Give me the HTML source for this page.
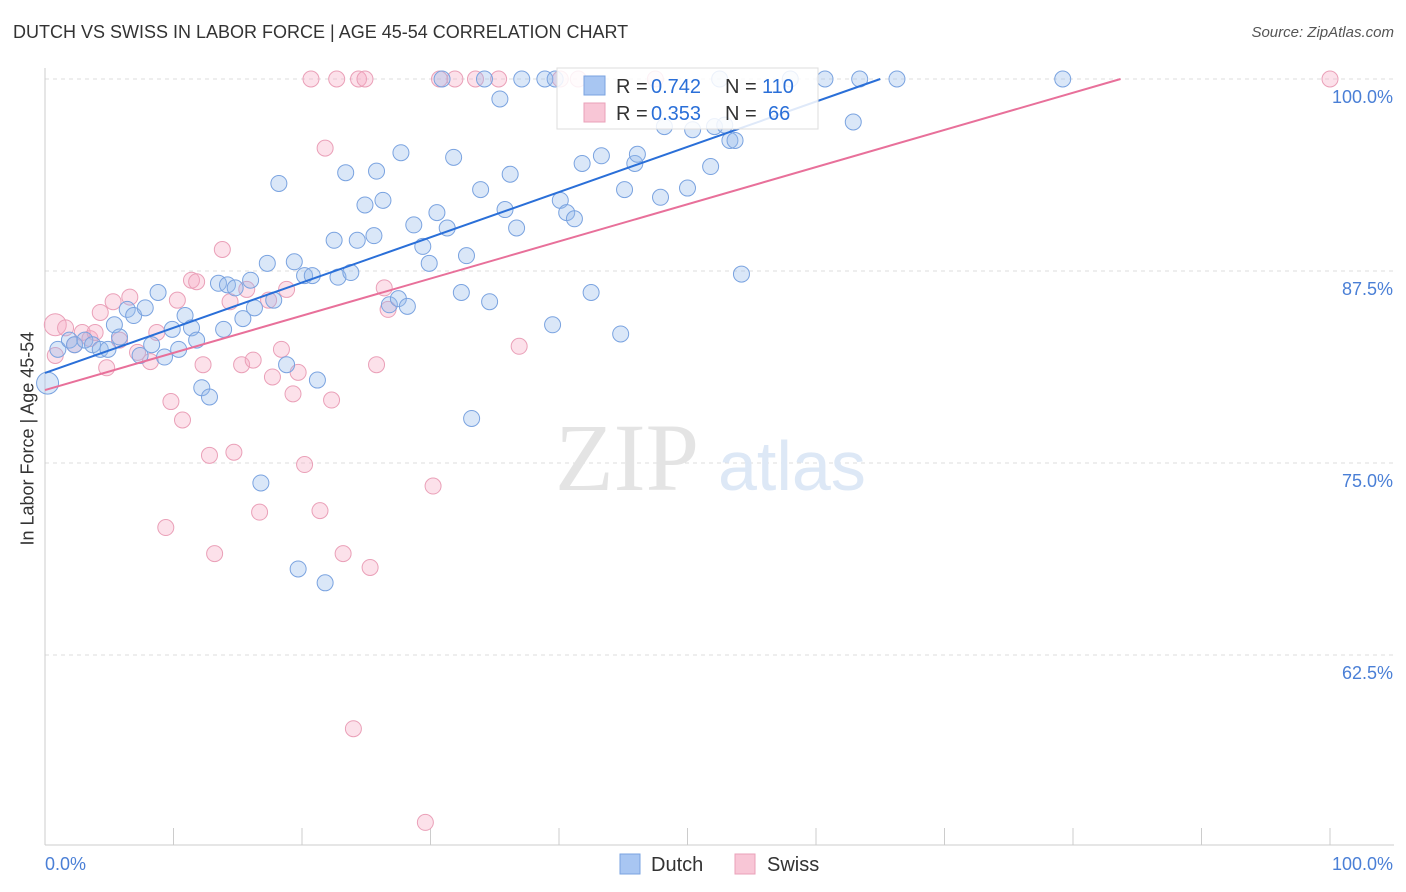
<!DOCTYPE html>
<html><head><meta charset="utf-8">
<style>
body{margin:0;background:#fff;font-family:"Liberation Sans",sans-serif;}
#wrap{position:relative;width:1406px;height:892px;overflow:hidden;}
.t{position:absolute;white-space:nowrap;}
</style></head><body>
<div id="wrap">
<div class="t" style="left:13px;top:22px;font-size:18px;color:#333;">DUTCH VS SWISS IN LABOR FORCE | AGE 45-54 CORRELATION CHART</div>
<div class="t" style="right:12px;top:24px;font-size:15px;color:#555;font-style:italic;">Source: ZipAtlas.com</div>
<div class="t" style="left:-62px;top:445px;font-size:18px;color:#333;transform:rotate(-90deg);width:180px;text-align:center;">In Labor Force | Age 45-54</div>
<svg id="svg" width="1406" height="892" style="position:absolute;left:0;top:0"></svg>
</div>
<script>
const blueX=[0.2,1,1.9,2.3,3.1,3.7,4.3,4.9,5.4,5.8,6.4,6.9,7.4,7.8,8.3,8.8,9.3,9.9,10.4,10.9,11.4,11.8,12.2,12.8,13.9,13.5,14.2,14.8,15.4,16.0,16.3,16.8,17.3,17.8,18.2,18.8,19.4,19.7,20.2,20.8,21.2,21.8,22.5,22.8,23.4,23.8,24.3,24.9,25.6,25.8,26.3,26.8,27.5,27.7,28.2,28.7,29.4,29.9,30.5,30.9,31.3,31.8,32.4,32.8,33.2,33.9,34.2,34.6,35.4,35.8,36.2,36.7,37.1,38.9,39.5,39.7,40.1,40.6,41.2,41.8,42.5,43.3,44.8,45.1,45.9,46.1,47.9,48.2,50.0,50.4,51.8,52.1,52.9,53.3,53.7,54.2,60.7,62.9,63.4,66.3,79.2,52.5,58.0];
const blueY=[80.2,82.4,83.0,82.7,83.0,82.7,82.4,82.4,84.0,83.2,85.0,84.6,82.0,85.1,82.7,86.1,81.9,83.7,82.4,84.6,83.8,83.0,79.9,79.3,83.7,86.7,86.6,86.4,84.4,86.9,85.1,73.7,88.0,85.6,93.2,81.4,88.1,68.1,87.2,87.2,80.4,67.2,89.5,87.1,93.9,87.4,89.5,91.8,89.8,94.0,92.1,85.3,85.7,95.2,85.2,90.5,89.1,88.0,91.3,100,90.3,94.9,86.1,88.5,77.9,92.8,100,85.5,98.7,91.5,93.8,90.3,100,100,84.0,100,92.1,91.3,90.9,94.5,86.1,95.0,83.4,92.8,94.5,95.1,92.3,96.9,92.9,96.7,94.3,96.9,97.0,96.0,96.0,87.3,100,97.2,100,100,100,100,100];
const pinkX=[0.8,0.8,1.6,2.3,2.9,3.5,3.9,4.3,4.8,5.3,5.8,6.6,7.2,8.2,8.7,9.4,9.8,10.3,10.7,11.4,11.8,12.3,12.8,13.2,13.8,14.4,14.7,15.3,15.7,16.2,16.7,17.4,17.7,18.4,18.8,19.3,19.7,20.2,20.7,21.4,21.8,22.3,22.7,23.2,24.0,24.4,24.9,25.3,25.8,26.4,26.7,29.6,30.2,30.7,31.9,33.5,35.3,36.9,40.1,41.5,47.5,100];
const pinkY=[84.0,82.0,83.8,82.7,83.5,83.1,83.5,84.8,81.2,85.5,83.0,85.8,82.2,81.6,83.5,70.8,79.0,85.6,77.8,86.9,86.8,81.4,75.5,69.1,88.9,85.5,75.7,81.4,86.3,81.7,71.8,85.6,80.6,82.4,86.3,79.5,80.9,74.9,100,71.9,95.5,79.1,100,69.1,57.7,100,100,68.2,81.4,86.4,85.0,51.6,73.5,100,100,100,100,82.6,100,100,100,100];
const blueTrend=[0,80.86,65,100];
const pinkTrend=[0,79.75,83.7,100];
const yTicks=[100,87.5,75,62.5];
const yTickLabels=["100.0%","87.5%","75.0%","62.5%"];
const xs=v=>45+v*12.85, ys=v=>79+(100-v)*192/12.5;
const svg=document.getElementById('svg');const NS='http://www.w3.org/2000/svg';
function mk(t,a){const e=document.createElementNS(NS,t);for(const k in a)e.setAttribute(k,a[k]);svg.appendChild(e);return e;}
yTicks.forEach((v,i)=>{const l=mk('line',{x1:45,x2:1394,y1:ys(v),y2:ys(v),stroke:'#ddd','stroke-dasharray':'4,4'});

const t=mk('text',{x:1393,y:ys(v)+24,'text-anchor':'end','font-size':18,fill:'#4a7fd6','font-family':'Liberation Sans'});t.textContent=yTickLabels[i];
});
let ax=mk('line',{x1:45,x2:45,y1:68,y2:845,stroke:'#ccc'});
ax=mk('line',{x1:45,x2:1394,y1:845,y2:845,stroke:'#ccc'});
for(let i=0;i<=10;i++){const l=mk('line',{x1:xs(i*10),x2:xs(i*10),y1:828,y2:845,stroke:'#ccc'});}
let t=mk('text',{x:45,y:870,'font-size':18,fill:'#4a7fd6','font-family':'Liberation Sans'});t.textContent='0.0%';
t=mk('text',{x:1393,y:870,'text-anchor':'end','font-size':18,fill:'#4a7fd6','font-family':'Liberation Sans'});t.textContent='100.0%';
t=mk('text',{x:555,y:490,'font-size':96,fill:'#e4e4e4','font-family':'Liberation Serif'});t.textContent='ZIP';
t=mk('text',{x:718,y:490,'font-size':70,fill:'#dde8f6','font-family':'Liberation Sans'});t.textContent='atlas';
pinkX.forEach((x,i)=>{const c=mk('circle',{cx:xs(x),cy:ys(pinkY[i]),r:i<1?11:8,fill:'rgba(245,170,195,0.35)',stroke:'#eaa0b8','stroke-width':1});
});
blueX.forEach((x,i)=>{const c=mk('circle',{cx:xs(x),cy:ys(blueY[i]),r:i<1?11:8,fill:'rgba(150,185,235,0.35)',stroke:'#7aa3e0','stroke-width':1});
});
let tl=mk('line',{x1:xs(blueTrend[0]),y1:ys(blueTrend[1]),x2:xs(blueTrend[2]),y2:ys(blueTrend[3]),stroke:'#2a6fd8','stroke-width':2});

tl=mk('line',{x1:xs(pinkTrend[0]),y1:ys(pinkTrend[1]),x2:xs(pinkTrend[2]),y2:ys(pinkTrend[3]),stroke:'#e8709a','stroke-width':2});

let g=mk('rect',{x:557,y:68,width:261,height:61,fill:'rgba(255,255,255,0.85)',stroke:'#ddd'});
function lt(x,y,s,c,n,a){const e=mk('text',{x:x,y:y,'font-size':20,fill:c,'font-family':'Liberation Sans','text-anchor':a||'start'});e.textContent=s;}
g=mk('rect',{x:584,y:76,width:21,height:19,fill:'#a8c6f2',stroke:'#7aa3e0'});
g=mk('rect',{x:584,y:103,width:21,height:19,fill:'#f8c6d6',stroke:'#eaa0b8'});
lt(616,93,'R =','#333','r-label');lt(651,93,'0.742','#2a6fd8','dutch-r');lt(725,93,'N =','#333','n-label');lt(762,93,'110','#2a6fd8','dutch-n');
lt(616,120,'R =','#333','r-label');lt(651,120,'0.353','#2a6fd8','swiss-r');lt(725,120,'N =','#333','n-label');lt(768,120,'66','#2a6fd8','swiss-n');
g=mk('rect',{x:620,y:854,width:20,height:20,fill:'#a8c6f2',stroke:'#7aa3e0'});
lt(651,871,'Dutch','#333','legend-dutch');
g=mk('rect',{x:735,y:854,width:20,height:20,fill:'#f8c6d6',stroke:'#eaa0b8'});
lt(767,871,'Swiss','#333','legend-swiss');
</script>
</body></html>
